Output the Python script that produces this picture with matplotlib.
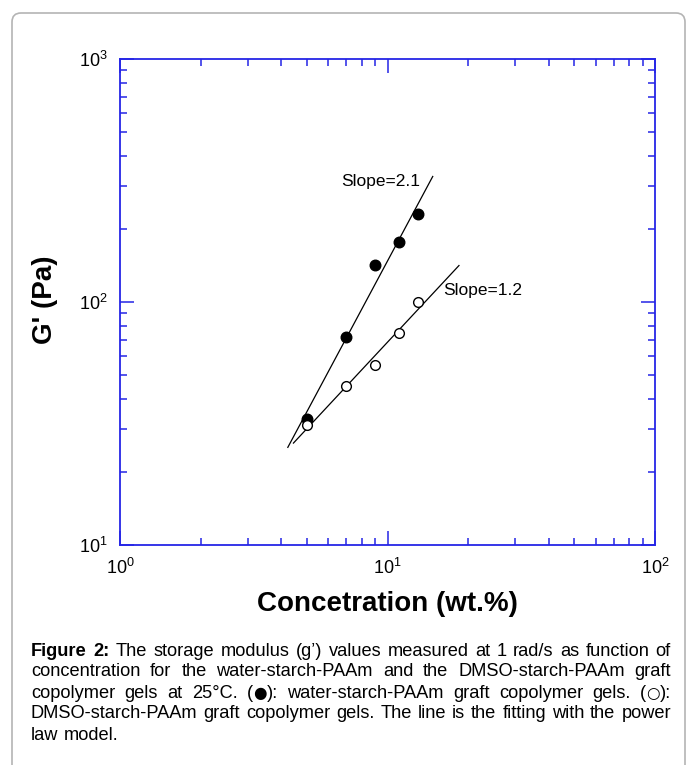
import numpy as np
import matplotlib
matplotlib.use('Agg')
import matplotlib.pyplot as plt
from matplotlib import font_manager
from matplotlib.patches import FancyBboxPatch
from matplotlib.transforms import IdentityTransform
from matplotlib.ticker import LogLocator, NullFormatter

# ---------------- data ----------------
conc = [5, 7, 9, 11, 13]                      # wt.%
g_water = [32.9, 71.8, 141.6, 176.0, 229.5]   # filled circles
g_dmso = [31.2, 45.1, 55.2, 74.8, 100.0]      # open circles
fit_range_water = [4.24, 14.76]
fit_range_dmso = [4.45, 18.5]
slope_labels = ['Slope=2.1', 'Slope=1.2']
x_ticks = [1, 10, 100]
y_ticks = [10, 100, 1000]
x_label = 'Concetration (wt.%)'
y_label = "G' (Pa)"
caption_lines = [
    "Figure 2: The storage modulus (g\u2019) values measured at 1 rad/s as function of",
    "concentration for the water-starch-PAAm and the DMSO-starch-PAAm graft",
    "copolymer gels at 25\u00b0C. (\u25cf): water-starch-PAAm graft copolymer gels. (\u25cb):",
    "DMSO-starch-PAAm graft copolymer gels. The line is the fitting with the power",
    "law model.",
]

# ---------------- fonts ----------------
names = {f.name for f in font_manager.fontManager.ttflist}
base = 'Liberation Sans' if 'Liberation Sans' in names else 'DejaVu Sans'
narrow = 'Liberation Sans Narrow' if 'Liberation Sans Narrow' in names else base
plt.rcParams['font.family'] = [base, 'DejaVu Sans']
plt.rcParams['mathtext.fontset'] = 'custom'
plt.rcParams['mathtext.rm'] = base
plt.rcParams['mathtext.it'] = base + ':italic'
plt.rcParams['mathtext.bf'] = base + ':bold'

W, H = 689, 765
fig = plt.figure(figsize=(W / 100, H / 100), dpi=100)
fig.patch.set_facecolor('white')

# border (open at the bottom)
border = FancyBboxPatch((12, -30), 673, (H - 13) + 30,
                        boxstyle='round,pad=0,rounding_size=9',
                        transform=IdentityTransform(), facecolor='none',
                        edgecolor='#b4b4b4', linewidth=1.2)
fig.add_artist(border)

ax_l, ax_r, ax_t, ax_b = 120, 655, 59, 545
ax = fig.add_axes([ax_l / W, 1 - ax_b / H, (ax_r - ax_l) / W, (ax_b - ax_t) / H])
ax.set_xscale('log')
ax.set_yscale('log')
ax.set_xlim(x_ticks[0], x_ticks[-1])
ax.set_ylim(y_ticks[0], y_ticks[-1])

blue = '#2525e6'
for s in ax.spines.values():
    s.set_color(blue)
    s.set_linewidth(1.3)

ax.xaxis.set_major_locator(LogLocator(base=10, numticks=10))
ax.yaxis.set_major_locator(LogLocator(base=10, numticks=10))
ax.xaxis.set_minor_locator(LogLocator(base=10, subs=np.arange(2, 10), numticks=20))
ax.yaxis.set_minor_locator(LogLocator(base=10, subs=np.arange(2, 10), numticks=20))
ax.xaxis.set_minor_formatter(NullFormatter())
ax.yaxis.set_minor_formatter(NullFormatter())
ax.tick_params(which='both', direction='in', top=True, right=True, color=blue,
               labelcolor='black', width=1.1)
ax.tick_params(which='major', length=10, labelsize=13)
ax.tick_params(which='minor', length=5)
ax.tick_params(axis='x', which='major', pad=9)
ax.tick_params(axis='y', which='major', pad=9)

# fits
for g, rng in [(g_water, fit_range_water), (g_dmso, fit_range_dmso)]:
    c = np.polyfit(np.log10(conc), np.log10(g), 1)
    xs = np.array(rng, dtype=float)
    ys = 10 ** np.polyval(c, np.log10(xs))
    ax.plot(xs, ys, color='black', lw=0.9, zorder=2)

ax.plot(conc, g_water, 'o', color='black', markersize=7.6, zorder=3)
ax.plot(conc, g_dmso, 'o', markerfacecolor='white', markeredgecolor='black',
        markeredgewidth=1.0, markersize=7.0, zorder=3)

ax.text(6.74, 312, slope_labels[0], fontsize=12.5, ha='left', va='center')
ax.text(16.1, 112, slope_labels[1], fontsize=12.5, ha='left', va='center')

ax.set_xlabel(x_label, fontsize=20, fontweight='bold', va='center', ha='center')
ax.xaxis.set_label_coords(0.5, (ax_b - 604) / (ax_b - ax_t))
ax.set_ylabel(y_label, fontsize=20, fontweight='bold', va='center', ha='center')
ax.yaxis.set_label_coords((45 - ax_l) / (ax_r - ax_l), (ax_b - 300) / (ax_b - ax_t))

# ---------------- caption (justified) ----------------
renderer = fig.canvas.get_renderer()
cap_left, cap_right = 31, 671
cap_y = [651, 672, 693, 714, 735]
fam = [narrow, base, 'DejaVu Sans']
sym_fam = ['DejaVu Sans']
SYMS = ('\u25cf', '\u25cb')


def pieces(word, bold):
    """split a word into (text, family, bold) pieces; symbols use DejaVu."""
    out, cur = [], ''
    for ch in word:
        if ch in SYMS:
            if cur:
                out.append((cur, fam, bold))
                cur = ''
            out.append((ch, sym_fam, bold))
        else:
            cur += ch
    if cur:
        out.append((cur, fam, bold))
    return out


def text_width(s, size, family, bold):
    t = fig.text(0, 0, s, fontsize=size, family=family,
                 fontweight='bold' if bold else 'normal')
    w = t.get_window_extent(renderer).width
    t.remove()
    return w


def word_width(word, size, bold):
    return sum(text_width(p, size * (0.85 if f is sym_fam else 1.0), f, b)
               for p, f, b in pieces(word, bold))


def line_words(i):
    words = caption_lines[i].split(' ')
    return [(w, i == 0 and j < 2) for j, w in enumerate(words)]


size0 = 12.0
ws = [word_width(w, size0, b) for w, b in line_words(0)]
sp = text_width('a a', size0, fam, False) - text_width('aa', size0, fam, False)
natural = sum(ws) + sp * (len(ws) - 1)
cap_size = size0 * 625 / natural

for i in range(len(caption_lines)):
    words = line_words(i)
    widths = [word_width(w, cap_size, b) for w, b in words]
    y = 1 - cap_y[i] / H
    if i < len(caption_lines) - 1 and len(words) > 1:
        gap = (cap_right - cap_left - sum(widths)) / (len(words) - 1)
    else:
        gap = text_width('a a', cap_size, fam, False) - text_width('aa', cap_size, fam, False)
    x = cap_left
    for (w, b), wd in zip(words, widths):
        px = x
        for p, f, bb in pieces(w, b):
            sz = cap_size * (0.85 if f is sym_fam else 1.0)
            fig.text(px / W, y, p, fontsize=sz, family=f,
                     fontweight='bold' if bb else 'normal', ha='left', va='center')
            px += text_width(p, sz, f, bb)
        x += wd + gap

fig.savefig('out.png', dpi=100, facecolor='white')
